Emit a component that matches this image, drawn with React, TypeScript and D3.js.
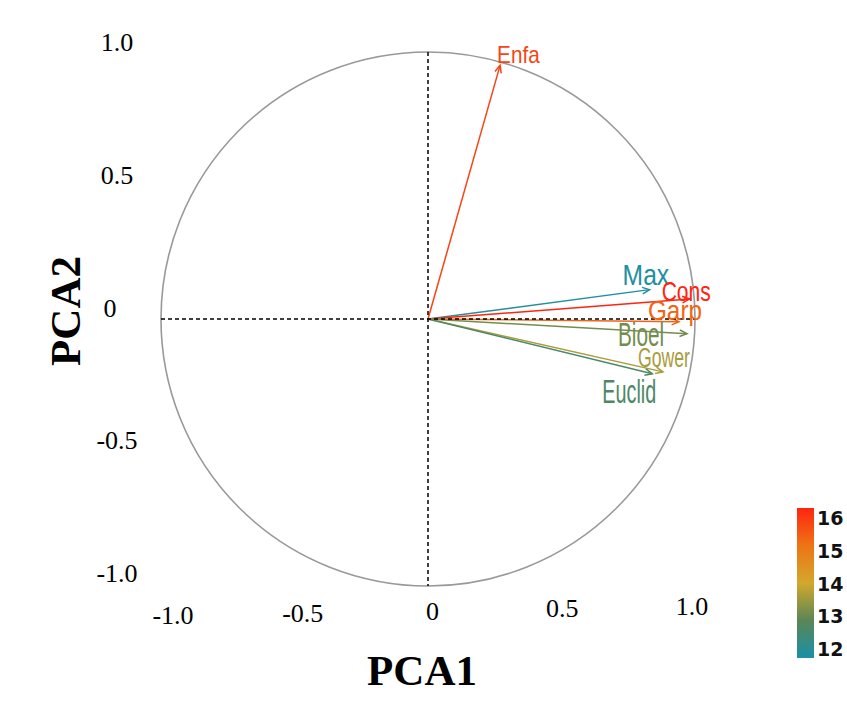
import * as d3 from 'd3';
import React from 'react';

// loadings on the first two components
const variables = ['Enfa', 'Max', 'Cons', 'Garp', 'Bioel', 'Gower', 'Euclid'];
const pc1 = [0.27, 0.83, 0.98, 0.94, 0.97, 0.88, 0.84];
const pc2 = [0.95, 0.11, 0.075, -0.01, -0.055, -0.198, -0.205];
// value used for the colour of each arrow
const colorValue = [15.6, 12.1, 16, 15.2, 13.2, 13.65, 12.8];

const axisTicks = [-1, -0.5, 0, 0.5, 1];
const colorTicks = [12, 13, 14, 15, 16];

// label placement relative to arrow tip (px), font size and horizontal squeeze
const labelLayout = {
    Enfa: {dx: -3, dy: -2, size: 23, sx: 0.9},
    Max: {dx: -27, dy: -5, size: 29, sx: 0.85},
    Cons: {dx: -28, dy: 2, size: 27, sx: 0.78},
    Garp: {dx: -31, dy: -2, size: 27, sx: 0.9},
    Bioel: {dx: -69, dy: 12, size: 33, sx: 0.63},
    Gower: {dx: -25, dy: -5, size: 28, sx: 0.63},
    Euclid: {dx: -50, dy: 29, size: 33, sx: 0.6},
};

const W = 847, H = 709;
const cx = 428, cy = 319, R = 267;

export default function App() {
    const x = d3.scaleLinear().domain([-1, 1]).range([cx - R, cx + R]);
    const y = d3.scaleLinear().domain([-1, 1]).range([cy + R, cy - R]);

    // tick labels sit outside the circle
    const xLab = d3.scaleLinear().domain([-1, 1]).range([173, 692]);
    const xLabBase = d3.scaleLinear().domain([-1, 1]).range([624, 615]);
    const yLab = d3.scaleLinear().domain([-1, 1]).range([573, 42]);

    const color = d3.scaleLinear<string>()
        .domain(colorTicks)
        .range(['#1a90a8', '#5a8656', '#d2a82c', '#ee7414', '#ff2410']);

    const cbTop = 508, cbBottom = 658;
    const cb = d3.scaleLinear().domain([16, 12]).range([518, 649]);

    const arrowHead = (x0, y0, x1, y1) => {
        const a = Math.atan2(y1 - y0, x1 - x0);
        const L = 8, s = 0.42;
        const p1 = [x1 - L * Math.cos(a - s), y1 - L * Math.sin(a - s)];
        const p2 = [x1 - L * Math.cos(a + s), y1 - L * Math.sin(a + s)];
        return `M${p1[0]},${p1[1]}L${x1},${y1}L${p2[0]},${p2[1]}`;
    };

    const circle = d3.path();
    circle.arc(x(0), y(0), x(1) - x(0), 0, 2 * Math.PI);

    const serif = '"Liberation Serif", "Times New Roman", serif';

    return (
        <svg width={W} height={H} style={{position: 'absolute', left: 0, top: 0, background: '#fff'}}>
            <defs>
                <linearGradient id="cbGrad" x1="0" y1="1" x2="0" y2="0">
                    {colorTicks.map((t, i) => (
                        <stop key={t} offset={i / (colorTicks.length - 1)} stopColor={color(t)} />
                    ))}
                </linearGradient>
            </defs>

            <path d={circle.toString()} fill="none" stroke="#999" strokeWidth={1.6} />

            {variables.map((v, i) => {
                const x1 = x(pc1[i]), y1 = y(pc2[i]);
                const c = color(colorValue[i]);
                return (
                    <g key={v}>
                        <line x1={x(0)} y1={y(0)} x2={x1} y2={y1} stroke={c} strokeWidth={1.5} />
                        <path d={arrowHead(x(0), y(0), x1, y1)} fill="none" stroke={c} strokeWidth={1.5} />
                    </g>
                );
            })}

            <line x1={x(-1)} x2={x(1)} y1={y(0)} y2={y(0)} stroke="#000" strokeWidth={1.5} strokeDasharray="4,3" />
            <line x1={x(0)} x2={x(0)} y1={y(1)} y2={y(-1)} stroke="#000" strokeWidth={1.5} strokeDasharray="4,3" />

            {variables.map((v, i) => {
                const lay = labelLayout[v];
                const tx = x(pc1[i]) + lay.dx, ty = y(pc2[i]) + lay.dy;
                return (
                    <text key={v} transform={`translate(${tx},${ty}) scale(${lay.sx},1)`}
                        fill={color(colorValue[i])}
                        style={{fontFamily: '"Liberation Sans", Arial, sans-serif', fontSize: lay.size}}>
                        {v}
                    </text>
                );
            })}

            {axisTicks.map((t) => (
                <text key={'x' + t} x={xLab(t)} y={xLabBase(t)} textAnchor="middle"
                    style={{fontFamily: serif, fontSize: 26}}>
                    {t === 0 ? '0' : t.toFixed(1)}
                </text>
            ))}
            {axisTicks.map((t) => (
                <text key={'y' + t} x={t === 0 ? 110 : 117} y={yLab(t) + 9} textAnchor="middle"
                    style={{fontFamily: serif, fontSize: 26}}>
                    {t === 0 ? '0' : t.toFixed(1)}
                </text>
            ))}

            <text x={422} y={685} textAnchor="middle"
                style={{fontFamily: serif, fontSize: 43, fontWeight: 'bold'}}>
                PCA1
            </text>
            <text transform="translate(80,311) rotate(-90)" textAnchor="middle"
                style={{fontFamily: serif, fontSize: 43, fontWeight: 'bold'}}>
                PCA2
            </text>

            <rect x={797} y={cbTop} width={17} height={cbBottom - cbTop} fill="url(#cbGrad)" />
            {colorTicks.map((t) => (
                <text key={'c' + t} x={817} y={cb(t) + 7}
                    style={{fontFamily: '"DejaVu Sans", sans-serif', fontSize: 19, fontWeight: 'bold', fill: '#111'}}>
                    {t}
                </text>
            ))}
        </svg>
    );
}
